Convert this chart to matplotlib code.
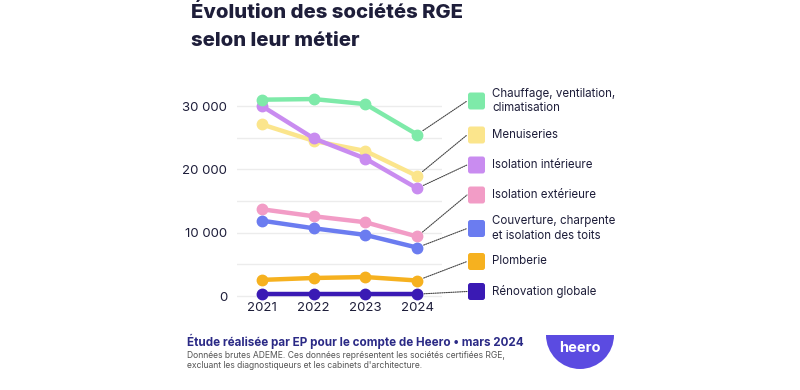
import matplotlib
matplotlib.use('Agg')

import matplotlib.pyplot as plt
from matplotlib.patches import FancyBboxPatch, Wedge, ConnectionPatch

plt.rcParams['font.family'] = ['Inter', 'DejaVu Sans']

years = [2021, 2022, 2023, 2024]

chauffage = [31000, 31100, 30300, 25500]
menuiseries = [27100, 24500, 22900, 18950]
isolation_int = [30000, 24900, 21700, 17000]
isolation_ext = [13700, 12600, 11650, 9400]
couverture = [11900, 10700, 9650, 7650]
plomberie = [2550, 2850, 3000, 2450]
renovation = [300, 300, 300, 300]

labels = ['Chauffage, ventilation,\nclimatisation', 'Menuiseries', 'Isolation intérieure',
          'Isolation extérieure', 'Couverture, charpente\net isolation des toits',
          'Plomberie', 'Rénovation globale']
series = [chauffage, menuiseries, isolation_int, isolation_ext, couverture, plomberie, renovation]
colors = ['#7eeaa9', '#fbe58c', '#c98cf0', '#f29cc6', '#6b7cf0', '#f6b11f', '#3a1ab4']
draw_order = [3, 4, 5, 6, 1, 2, 0]

yticks = [0, 10000, 20000, 30000]
ytick_labels = ['0', '10 000', '20 000', '30 000']
minor_ticks = [5000, 15000, 25000]

dark = '#1e1e3a'

fig = plt.figure(figsize=(8, 3.9), dpi=100)
fig.patch.set_facecolor('white')

ax = fig.add_axes([0.29625, 0.2328, 0.25625, 0.5441])
for i in draw_order:
    ax.plot(years, series[i], color=colors[i], lw=3.2, marker='o', ms=7.5,
            solid_capstyle='round', clip_on=False, zorder=3)

ax.set_xlim(2020.52, 2024.48)
ax.set_ylim(-500, 33000)
ax.set_xticks(years)
ax.set_xticklabels([str(y) for y in years])
ax.set_yticks(yticks)
ax.set_yticklabels(ytick_labels)
ax.set_yticks(minor_ticks, minor=True)
ax.grid(axis='y', which='both', color='#ececec', lw=1)
ax.grid(axis='x', visible=False)
ax.tick_params(axis='both', which='both', length=0, labelsize=9.5, labelcolor=dark)
ax.tick_params(axis='y', pad=7)
ax.tick_params(axis='x', pad=2)
for s in ax.spines.values():
    s.set_visible(False)
ax.set_axisbelow(True)

# overlay in pixel coordinates for legend, texts and logo
ov = fig.add_axes([0, 0, 1, 1], zorder=5)
ov.set_xlim(0, 800)
ov.set_ylim(390, 0)
ov.axis('off')
ov.patch.set_alpha(0)

legend_y = [101, 135, 165, 195, 228.5, 261.5, 291.5]
for i, lab in enumerate(labels):
    ly = legend_y[i]
    ov.add_patch(FancyBboxPatch((469, ly - 7.5), 15, 15, boxstyle='round,pad=1,rounding_size=2.5',
                                fc=colors[i], ec='none'))
    ov.text(492, ly, lab, fontsize=8.3, color=dark, va='center', ha='left', linespacing=1.3)
    con = ConnectionPatch(xyA=(years[-1], series[i][-1]), coordsA=ax.transData,
                          xyB=(467, ly), coordsB=ov.transData,
                          color='#444444', lw=0.8, ls=(0, (1, 1)), shrinkA=5, shrinkB=0)
    fig.add_artist(con)

# title
fig.text(191 / 800, 1 - 18.5 / 390, 'Évolution des sociétés RGE', fontsize=14.6,
         fontweight='heavy', color=dark, va='baseline')
fig.text(191 / 800, 1 - 45.5 / 390, 'selon leur métier', fontsize=14.6,
         fontweight='heavy', color=dark, va='baseline')

# footer
fig.text(187 / 800, 1 - 346 / 390, 'Étude réalisée par EP pour le compte de Heero • mars 2024',
         fontsize=8.4, fontweight='bold', color='#2b2a86', va='baseline')
fig.text(187 / 800, 1 - 357.5 / 390,
         'Données brutes ADEME. Ces données représentent les sociétés certifiées RGE,',
         fontsize=6.2, color='#555555', va='baseline')
fig.text(187 / 800, 1 - 368 / 390,
         "excluant les diagnostiqueurs et les cabinets d'architecture.",
         fontsize=6.2, color='#555555', va='baseline')

# logo
lg = fig.add_axes([530 / 800, 1 - 378 / 390, 100 / 800, 50 / 390], zorder=6)
lg.set_xlim(-50, 50)
lg.set_ylim(-40, 10)
lg.set_aspect('equal')
lg.axis('off')
lg.add_patch(Wedge((0, 3), 34, 180, 360, fc='#5b4be1', ec='none'))
lg.text(0, -10, 'heero', color='white', fontsize=10.5, fontweight='bold', ha='center', va='center')

fig.savefig('out.png', dpi=100, facecolor='white')
